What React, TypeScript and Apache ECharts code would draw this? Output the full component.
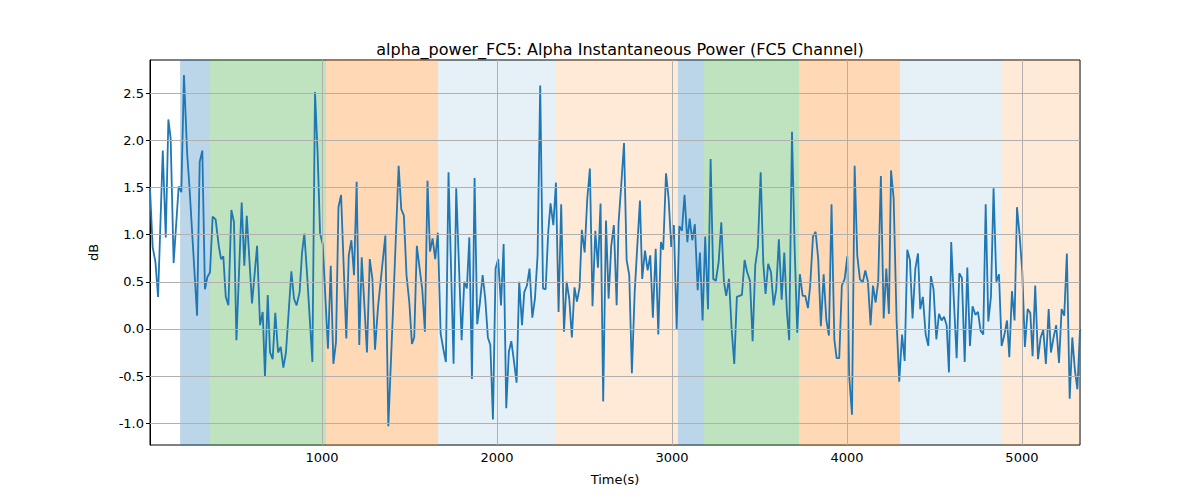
import { useEffect, useRef } from "react"
import * as echarts from "echarts"

const times = [17, 32, 48, 63, 90, 107, 122, 135, 152, 181, 196, 211, 230, 242, 286, 301, 316, 331, 345, 360, 375, 392, 410, 423, 436, 450, 465, 482, 497, 511, 541, 556, 570, 600, 629, 646, 661, 674, 690, 703, 718, 733, 749, 764, 779, 794, 825, 840, 855, 872, 886, 899, 914, 945, 960, 975, 989, 1004, 1034, 1050, 1065, 1080, 1094, 1109, 1139, 1153, 1168, 1183, 1198, 1213, 1227, 1257, 1273, 1288, 1303, 1320, 1362, 1379,
  1408, 1438, 1453, 1468, 1483, 1499, 1514, 1527, 1542, 1558, 1573, 1588, 1603, 1617, 1632, 1647, 1662, 1678, 1693, 1708, 1723, 1752, 1767, 1798, 1813, 1828, 1842, 1857, 1872, 1887, 1902, 1918, 1933, 1948, 1962, 1977, 1992, 2007, 2023, 2038, 2053, 2068, 2082, 2097, 2112, 2127, 2143, 2156, 2171, 2186, 2202, 2217, 2232, 2247, 2263, 2278, 2293, 2306, 2322, 2337, 2352, 2367, 2383, 2398, 2413, 2428, 2443, 2457, 2472, 2485, 2501, 2516, 2531, 2546, 2562, 2577, 2592, 2607, 2623, 2638, 2653, 2668, 2684,
  2695, 2710, 2726, 2741, 2756, 2771, 2787, 2802, 2817, 2830, 2846, 2861, 2876, 2891, 2907, 2922, 2937, 2950, 2966, 2981, 2996, 3011, 3027, 3042, 3057, 3072, 3088, 3101, 3116, 3131, 3147, 3160, 3175, 3190, 3206, 3221, 3236, 3251, 3267, 3282, 3297, 3310, 3326, 3341, 3356, 3371, 3400, 3415, 3430, 3446, 3461, 3476, 3491, 3507, 3522, 3535, 3550, 3566, 3581, 3596, 3611, 3627, 3642, 3657, 3670, 3686, 3701, 3716, 3731, 3747, 3762, 3777, 3790, 3806, 3821, 3836, 3851, 3867, 3882, 3897, 3912, 3928, 3941, 3956, 3971, 3987, 4002, 4013, 4029,
  4044, 4059, 4074, 4090, 4105, 4120, 4135, 4149, 4164, 4179, 4194, 4210, 4225, 4240, 4252, 4267, 4284, 4299, 4315, 4330, 4345, 4360, 4375, 4391, 4406, 4419, 4434, 4450, 4465, 4480, 4495, 4511, 4526, 4541, 4555, 4570, 4583, 4596, 4612, 4627, 4642, 4657, 4673, 4688, 4703, 4718, 4734, 4749, 4764, 4779, 4793, 4808, 4823, 4838, 4854, 4869, 4884, 4899, 4915, 4928, 4943, 4958, 4972, 4987, 5002, 5017, 5033, 5048, 5061, 5076, 5092, 5107, 5122, 5137, 5153, 5166, 5181, 5196, 5212, 5227, 5242, 5257, 5273, 5288, 5303, 5317, 5332]

const values = [1.49, 0.87, 0.71, 0.34, 1.89, 0.97, 2.22, 2.02, 0.70, 1.51, 1.45, 2.69, 1.84, 1.52, 0.14, 1.77, 1.89, 0.42, 0.55, 0.60, 1.19, 1.16, 0.88, 0.74, 0.77, 0.34, 0.25, 1.26, 1.13, -0.12, 1.34, 0.67, 1.20, 0.27, 0.88, 0.04, 0.18, -0.50, 0.36, -0.25, -0.32, 0.17, -0.25, -0.19, -0.41, -0.25, 0.61, 0.32, 0.25, 0.39, 0.81, 1.01, 0.60, -0.35, 2.51, 1.86, 1.01, 0.90, -0.21, 0.67, -0.37, -0.14, 1.29, 1.42, -0.10, 0.78, 0.94, 0.57, 1.56, -0.17, 0.76, -0.25, 0.74, 0.53, -0.22, 0.23, 0.99, -1.03,
  0.30, 1.73, 1.27, 1.20, 0.57, 0.28, -0.16, -0.09, 0.88, 0.64, 0.42, -0.03, 1.57, 0.82, 0.96, 0.74, 1.02, -0.05, -0.21, -0.35, 1.66, -0.37, 1.49, -0.12, 0.50, 0.43, 0.97, -0.53, 1.60, 0.05, 0.27, 0.57, 0.32, -0.09, -0.17, -0.96, 0.64, 0.74, 0.25, 0.90, -0.84, -0.24, -0.13, -0.34, -0.57, 0.50, 0.04, 0.39, 0.46, 0.64, 0.12, 0.32, 0.78, 2.58, 0.43, 0.42, 1.03, 1.33, 1.10, 1.55, 0.18, 1.32, -0.03, 0.50, 0.32, -0.09, 0.44, 0.29, 0.44, 1.05, 0.81, 1.38, 1.70, 0.24, 1.04, 0.65, 1.33, -0.77, 1.15, 0.32, 0.88, 1.10, 0.25,
  1.13, 1.52, 1.97, 0.73, 0.57, -0.47, 0.39, 0.88, 1.36, 0.53, 0.83, 0.62, 0.78, 0.12, 0.85, -0.06, 0.92, 0.84, 1.65, 1.38, 0.87, 1.10, 0.0, 1.09, 1.04, 1.42, 0.92, 1.17, 0.94, 1.11, 0.41, 0.81, 0.09, 0.98, 0.21, 1.80, 0.53, 0.51, 0.71, 1.13, 0.50, 0.35, 0.53, 0.0, -0.37, 0.34, 0.36, 0.73, 0.60, 0.51, -0.13, 0.67, 0.87, 1.66, 0.70, 0.37, 0.69, 0.60, 0.25, 0.42, 0.95, 0.31, 0.81, 0.18, -0.12, 2.09, 0.87, -0.04, 0.58, 0.35, 0.35, 0.22, 0.46, 0.98, 1.03, 0.74, 0.03, 0.58, 0.10, -0.07, 1.32, -0.11, -0.31, -0.31, 0.46, 0.53, 0.77, -0.50, -0.91,
  1.73, 0.78, 0.53, 0.49, 0.62, 0.50, 0.04, 0.46, 0.28, 0.51, 1.62, 0.11, 0.64, 0.16, 1.68, 1.38, 0.07, -0.56, -0.06, -0.34, 0.84, 0.73, 0.11, 0.64, 0.80, 0.21, 0.34, -0.06, -0.18, 0.56, 0.42, -0.11, 0.16, 0.09, 0.13, 0.04, -0.46, 0.92, 0.27, -0.31, 0.59, 0.54, -0.35, 0.65, -0.18, 0.24, 0.15, 0.18, -0.02, -0.06, 1.32, 0.08, 0.34, 1.49, 0.50, 0.58, -0.18, -0.07, 0.09, -0.30, 0.40, 0.09, 1.29, 0.99, 0.61, -0.19, 0.21, 0.17, -0.29, 0.46, -0.32, -0.09, -0.01, -0.37, 0.21, -0.25, -0.09, 0.04, -0.36, 0.21, 0.14, 0.80, -0.74, -0.09, -0.44, -0.64, -0.01]

// [start, end, color]
const phases: [number, number, string][] = [
  [189, 360, "rgba(31,119,180,0.3)"],
  [360, 1023, "rgba(44,160,44,0.3)"],
  [1023, 1663, "rgba(255,127,14,0.3)"],
  [1663, 2337, "rgba(31,119,180,0.11)"],
  [2337, 3034, "rgba(255,127,14,0.16)"],
  [3034, 3183, "rgba(31,119,180,0.3)"],
  [3183, 3726, "rgba(44,160,44,0.3)"],
  [3726, 4303, "rgba(255,127,14,0.3)"],
  [4303, 4886, "rgba(31,119,180,0.11)"],
  [4886, 5332, "rgba(255,127,14,0.16)"],
]

const xTicks = [1000, 2000, 3000, 4000, 5000]
const yTicks = [-1.0, -0.5, 0.0, 0.5, 1.0, 1.5, 2.0, 2.5]

const font = "DejaVu Sans"

export default function App() {
  const ref = useRef<HTMLDivElement>(null)

  useEffect(() => {
    if (!ref.current) return
    const chart = echarts.init(ref.current, undefined, { renderer: "svg" })
    const gridLine = { color: "#b0b0b0", width: 1, type: "solid" as const }
    chart.setOption({
      animation: false,
      title: {
        text: "alpha_power_FC5: Alpha Instantaneous Power (FC5 Channel)",
        left: 615,
        textAlign: "center",
        top: 36,
        textStyle: { fontFamily: font, fontSize: 16, fontWeight: "normal", color: "#000" },
      },
      grid: { left: 150, right: 120, top: 60, bottom: 55, show: true, borderColor: "#000", borderWidth: 1 },
      xAxis: {
        type: "value",
        min: 17,
        max: 5332,
        name: "Time(s)",
        nameLocation: "middle",
        nameGap: 28,
        nameTextStyle: { fontFamily: font, fontSize: 13, color: "#000" },
        axisLine: { lineStyle: { color: "#000" } },
        axisTick: { customValues: xTicks, length: 4, lineStyle: { color: "#000" } },
        axisLabel: {
          customValues: xTicks,
          fontFamily: font,
          fontSize: 13,
          color: "#000",
          margin: 6,
          formatter: (v: number) => String(v),
        },
        splitLine: { show: false },
      },
      yAxis: {
        type: "value",
        min: -1.23,
        max: 2.85,
        name: "dB",
        nameLocation: "middle",
        nameGap: 50,
        nameTextStyle: { fontFamily: font, fontSize: 13, color: "#000" },
        axisLine: { show: true, lineStyle: { color: "#000" } },
        axisTick: { show: true, customValues: yTicks, length: 4, lineStyle: { color: "#000" } },
        axisLabel: {
          customValues: yTicks,
          fontFamily: font,
          fontSize: 13,
          color: "#000",
          margin: 6,
          formatter: (v: number) => v.toFixed(1),
        },
        splitLine: { show: false },
      },
      series: [
        {
          type: "line",
          data: [],
          markArea: {
            silent: true,
            data: phases.map(([a, b, c]) => [
              { xAxis: a, itemStyle: { color: c } },
              { xAxis: b },
            ]),
          },
        },
        {
          type: "line",
          data: [],
          markLine: {
            silent: true,
            symbol: "none",
            label: { show: false },
            lineStyle: gridLine,
            data: [
              ...xTicks.map((x) => ({ xAxis: x })),
              ...yTicks.map((y) => ({ yAxis: y })),
            ],
          },
        },
        {
          type: "line",
          data: times.map((t, i) => [t, values[i]]),
          showSymbol: false,
          lineStyle: { color: "#1f77b4", width: 1.8 },
          itemStyle: { color: "#1f77b4" },
        },
      ],
    })
    return () => chart.dispose()
  }, [])

  return <div ref={ref} style={{ width: 1200, height: 500, margin: -8 }} />
}
